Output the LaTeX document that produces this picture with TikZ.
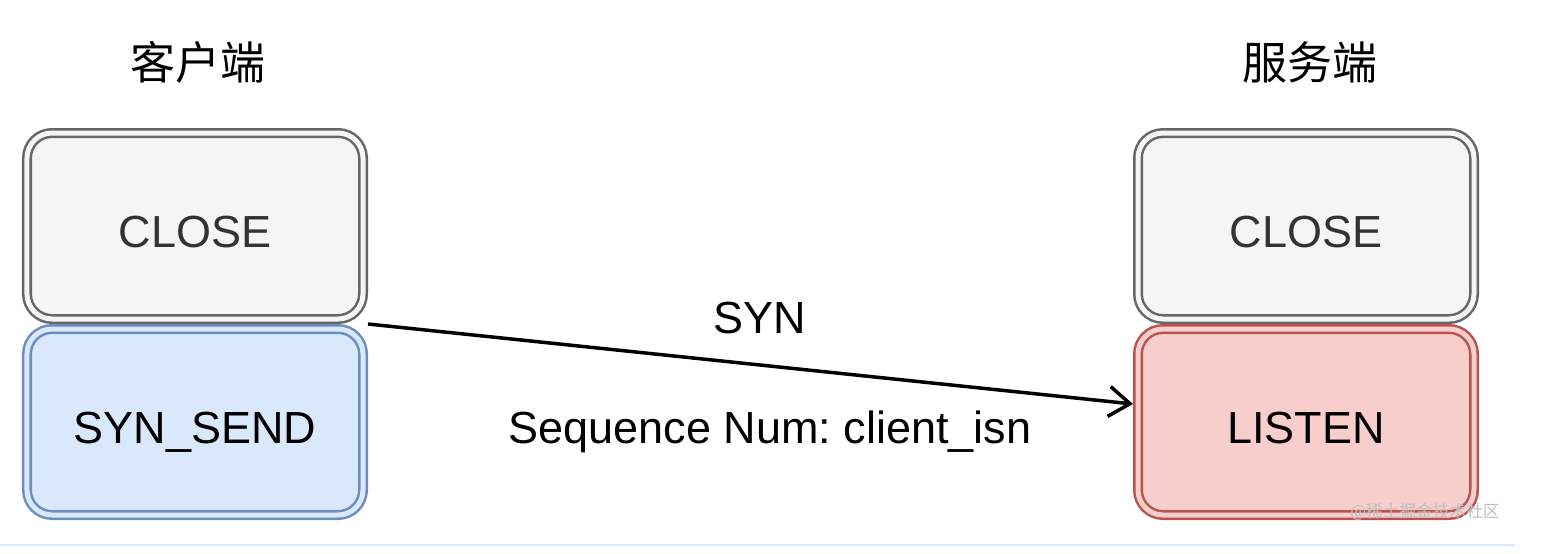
\documentclass[tikz,border=0pt]{standalone}
\usepackage{fontspec}
\setmainfont{Liberation Sans}
\newfontfamily\cjk{Noto Sans CJK SC}
\usepackage{tikz}
\usetikzlibrary{positioning,calc,arrows.meta}

\definecolor{grayfill}{HTML}{F5F5F5}
\definecolor{graydraw}{HTML}{666666}
\definecolor{bluefill}{HTML}{DAE8FC}
\definecolor{bluedraw}{HTML}{6C8EBF}
\definecolor{redfill}{HTML}{F8CECC}
\definecolor{reddraw}{HTML}{B85450}

\begin{document}
\begin{tikzpicture}[
  state/.style={rectangle, rounded corners=0.5cm, minimum width=6.72cm, minimum height=3.72cm,
    line width=0.05cm, double distance=0.1cm, outer sep=0pt, text height=25pt, text depth=0pt,
    font=\fontsize{25.6}{30}\selectfont},
  grayst/.style={state, draw=graydraw, fill=grayfill, double=grayfill, text=black!80},
  bluest/.style={state, draw=bluedraw, fill=bluefill, double=bluefill},
  redst/.style={state, draw=reddraw, fill=redfill, double=redfill},
  title/.style={font=\cjk\fontsize{25.6}{30}\selectfont},
  lbl/.style={font=\fontsize{25.6}{30}\selectfont}
]
\useasboundingbox (0,0) rectangle (30.96,-11.08);

% client side
\node[grayst] (closeC) at (3.9,-4.52) {CLOSE};
\node[bluest, below=0.2cm of closeC] (sendC) {SYN\_SEND};
\node[title] (client) at (3.96,-1.24) {客户端};

% server side
\node[grayst] (closeS) at (26.12,-4.52) {CLOSE};
\node[redst, below=0.2cm of closeS] (listenS) {LISTEN};
\node[title] (server) at (26.2,-1.24) {服务端};

% SYN segment
\coordinate (out) at ($(closeC.south east)!0.5!(sendC.north east)+(0.1,0)$);
\draw[-{Straight Barb[length=0.42cm,width=0.6cm]}, line width=0.07cm]
  (out) -- ([yshift=0.36cm,xshift=-0.1cm]listenS.west);
\node[lbl] (syn) at (15.2,-6.36) {SYN};
\node[lbl] (seq) at (15.4,-8.64) {Sequence Num:\ client\_isn};

% watermark and rule
\node[text=black!25, font=\cjk\fontsize{9.5}{11}\selectfont] (mark) at (28.5,-10.24) {@稀土掘金技术社区};
\draw[line width=0.04cm, color=bluefill] (0,-10.9) -- (30.3,-10.9);
\end{tikzpicture}
\end{document}
